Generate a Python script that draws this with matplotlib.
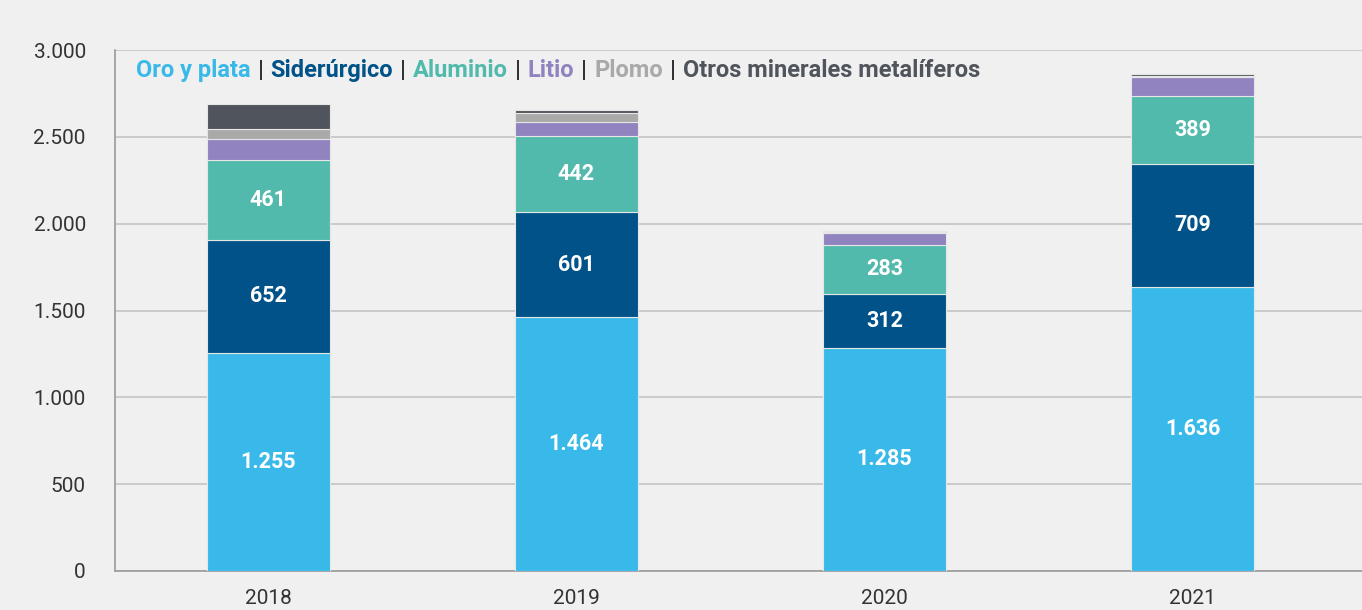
import matplotlib
matplotlib.use("Agg")
import matplotlib.pyplot as plt
import numpy as np
from matplotlib.offsetbox import TextArea, HPacker, AnchoredOffsetbox

plt.rcParams['font.family'] = ['Roboto', 'DejaVu Sans']

# Datos (estimados del gráfico)
anios = ['2018', '2019', '2020', '2021']
oro_plata = [1255, 1464, 1285, 1636]
siderurgico = [652, 601, 312, 709]
aluminio = [461, 442, 283, 389]
litio = [118, 78, 69, 111]
plomo = [57, 52, 3, 3]
otros = [144, 15, 8, 13]

series = [
    ('Oro y plata', oro_plata, '#38b9e9', True),
    ('Siderúrgico', siderurgico, '#005288', True),
    ('Aluminio', aluminio, '#52b9ad', True),
    ('Litio', litio, '#9183bf', False),
    ('Plomo', plomo, '#a9a9a9', False),
    ('Otros minerales metalíferos', otros, '#50545c', False),
]

bg = '#f0f0f0'
fig = plt.figure(figsize=(13.62, 6.10), dpi=100, facecolor=bg)
ax = fig.add_axes([115 / 1362, 39 / 610, 1 - 115 / 1362, 521 / 610])
ax.set_facecolor(bg)

x = np.arange(len(anios))
base = np.zeros(len(anios))


def fmt(v):
    return f'{v:,}'.replace(',', '.')


for nombre, vals, color, etiqueta in series:
    vals = np.array(vals)
    ax.bar(x, vals, 0.4, bottom=base, color=color, edgecolor='#e6e6e6',
           linewidth=0.8, zorder=3)
    if etiqueta:
        for xi, b, v in zip(x, base, vals):
            ax.text(xi, b + v / 2, fmt(int(v)), ha='center', va='center',
                    color='white', fontsize=15.5, fontweight='bold', zorder=4)
    base += vals

ax.set_xlim(-0.497, 3.55)
ax.set_ylim(0, 3000)
ax.set_yticks(np.arange(0, 3001, 500))
ax.set_yticklabels([fmt(v) for v in range(0, 3001, 500)])
ax.set_xticks(x)
ax.set_xticklabels(anios)
ax.tick_params(axis='both', length=0, labelsize=15, colors='#333333')
ax.tick_params(axis='x', pad=13)
ax.tick_params(axis='y', pad=21)
ax.grid(axis='y', color='#c4c4c4', linewidth=1.2, zorder=0)
for lado in ['top', 'right']:
    ax.spines[lado].set_visible(False)
for lado in ['left', 'bottom']:
    ax.spines[lado].set_color('#9a9a9a')
    ax.spines[lado].set_linewidth(1.2)

# Leyenda como texto coloreado
piezas = []
for i, (nombre, vals, color, etiqueta) in enumerate(series):
    if i > 0:
        piezas.append(TextArea('|', textprops=dict(color='#333333', fontsize=17,
                                                   fontweight='bold')))
    piezas.append(TextArea(nombre, textprops=dict(color=color, fontsize=17,
                                                  fontweight='bold')))
caja = HPacker(children=piezas, align='baseline', pad=0, sep=5)
anc = AnchoredOffsetbox(loc='upper left', child=caja, pad=0, frameon=False,
                        bbox_to_anchor=(136 / 1362, 1 - 59 / 610),
                        bbox_transform=fig.transFigure, borderpad=0)
ax.add_artist(anc)

fig.savefig('out.png', dpi=100, facecolor=bg)
